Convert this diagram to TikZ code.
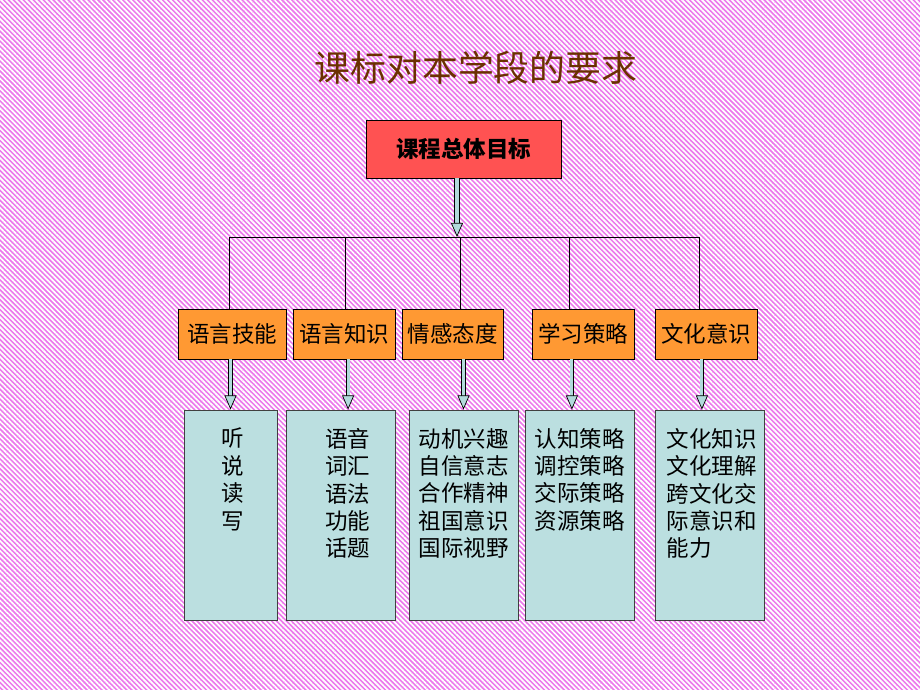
\documentclass[tikz,border=0pt]{standalone}
\usepackage{fontspec}
\setmainfont{Noto Sans CJK SC}
\usepackage{xcolor}
\usepackage{tikz}
\usetikzlibrary{arrows.meta, positioning, patterns.meta}

\definecolor{bgpink}{RGB}{236,120,236}
\definecolor{titlebrown}{RGB}{107,48,0}
\definecolor{goalred}{RGB}{255,82,82}
\definecolor{partorange}{RGB}{255,153,51}
\definecolor{detailblue}{RGB}{187,223,224}
\definecolor{pipefill}{RGB}{178,218,220}

\tikzset{
  goalbox/.style={draw=black, fill=goalred, line width=0.6pt, minimum width=4.875cm, minimum height=1.45cm, font=\fontsize{16pt}{19pt}\selectfont\bfseries},
  partbox/.style={draw=black, fill=partorange, line width=0.6pt, minimum height=1.25cm, inner sep=0pt, font=\fontsize{16pt}{19pt}\selectfont},
  detailbox/.style={draw=black!75, fill=detailblue, line width=0.6pt, minimum height=5.25cm, inner sep=0pt},
  detailtext/.style={anchor=north, yshift=-0.34cm, align=left, font=\fontsize{16pt}{19.5pt}\selectfont},
  pipe/.style={double=pipefill, double distance=2.2pt, line width=0.5pt, -{Triangle[length=10pt, width=8.5pt, fill=pipefill]}},
  bus/.style={line width=0.6pt}
}

\begin{document}
\begin{tikzpicture}[x=0.025cm, y=-0.025cm]
  % background
  \fill[bgpink] (0,0) rectangle (920,690);
  \fill[pattern={Lines[angle=-45, distance=2.5pt, line width=1.2pt]}, pattern color=white] (0,0) rectangle (920,690);
  \useasboundingbox (0,0) rectangle (920,690);

  \node[text=titlebrown, font=\fontsize{25.5pt}{30pt}\selectfont] (title) at (476,68) {课标对本学段的要求};

  \node[goalbox] (goal) at (463.5,149) {课程总体目标};

  % second level
  \node[partbox, minimum width=2.7cm] (skill) at (232,334) {语言技能};
  \node[partbox, minimum width=2.55cm] (knowledge) at (344,334) {语言知识};
  \node[partbox, minimum width=2.525cm] (affect) at (452.5,334) {情感态度};
  \node[partbox, minimum width=2.55cm] (strategy) at (583,334) {学习策略};
  \node[partbox, minimum width=2.55cm] (culture) at (706,334) {文化意识};

  % bus
  \coordinate (busL) at (229,237);
  \coordinate (busB) at (345,237);
  \coordinate (busC) at (460,237);
  \coordinate (busD) at (569,237);
  \coordinate (busR) at (699,237);
  \coordinate (goalfoot) at (457,237);
  \draw[bus] (busL) -- (busR);
  \draw[bus] (busL) -- (busL |- skill.north);
  \draw[bus] (busB) -- (busB |- knowledge.north);
  \draw[bus] (busC) -- (busC |- affect.north);
  \draw[bus] (busD) -- (busD |- strategy.north);
  \draw[bus] (busR) -- (busR |- culture.north);
  \draw[pipe, double distance=3pt] (goal.south -| goalfoot) -- (goalfoot);

  % third level
  \node[detailbox, minimum width=2.325cm] (skilldet) at (230.5,515) {};
  \node[detailbox, minimum width=2.725cm] (knowdet) at (340.5,515) {};
  \node[detailbox, minimum width=2.725cm] (affectdet) at (463.5,515) {};
  \node[detailbox, minimum width=2.725cm] (stratdet) at (579.5,515) {};
  \node[detailbox, minimum width=2.725cm] (culturedet) at (709.5,515) {};

  \node[detailtext, align=center, xshift=0.06cm] at (skilldet.north) {听\\说\\读\\写};
  \node[detailtext, xshift=0.18cm] at (knowdet.north) {语音\\词汇\\语法\\功能\\话题};
  \node[detailtext] at (affectdet.north) {动机兴趣\\自信意志\\合作精神\\祖国意识\\国际视野};
  \node[detailtext] at (stratdet.north) {认知策略\\调控策略\\交际策略\\资源策略};
  \node[detailtext, xshift=0.05cm] at (culturedet.north) {文化知识\\文化理解\\跨文化交\\际意识和\\能力};

  \coordinate (knowfoot) at ([xshift=0.19cm]knowdet.north);
  \coordinate (stratfoot) at ([xshift=-0.19cm]stratdet.north);
  \coordinate (culturefoot) at ([xshift=-0.19cm]culturedet.north);
  \draw[pipe] (skill.south -| skilldet.north) -- (skilldet.north);
  \draw[pipe] (knowledge.south -| knowfoot) -- (knowfoot);
  \draw[pipe] (affect.south -| affectdet.north) -- (affectdet.north);
  \draw[pipe] (strategy.south -| stratfoot) -- (stratfoot);
  \draw[pipe] (culture.south -| culturefoot) -- (culturefoot);
\end{tikzpicture}
\end{document}
